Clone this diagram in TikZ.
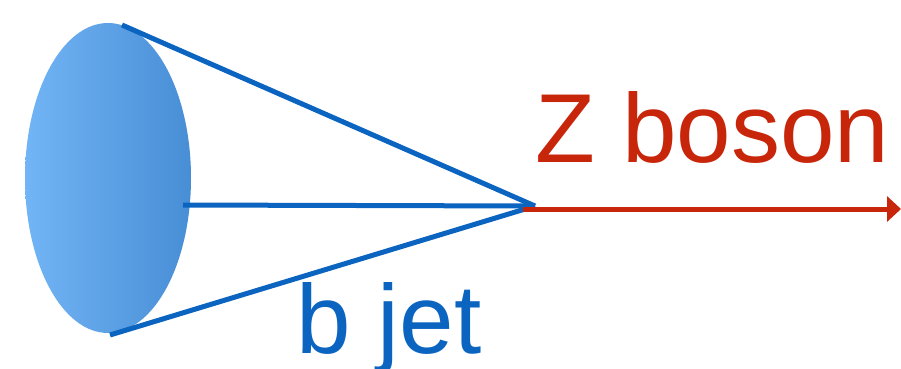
\documentclass[tikz,border=0pt]{standalone}
\usepackage{fontspec}
\setmainfont{Liberation Sans}
\usetikzlibrary{shapes.geometric,arrows.meta}
\definecolor{zred}{RGB}{200,38,10}
\definecolor{jetblue}{RGB}{10,100,192}
\definecolor{elleft}{RGB}{114,181,246}
\definecolor{elright}{RGB}{72,142,213}
\tikzset{
  jetline/.style={draw=jetblue, line width=5pt},
  zline/.style={draw=zred, line width=5pt, -{Triangle[length=14pt,width=25pt]}},
  lbl/.style={anchor=base west, inner sep=0pt, font=\fontsize{98}{112}\selectfont}
}
\begin{document}
\begin{tikzpicture}[x=1pt,y=-1pt]
\useasboundingbox (0,0) rectangle (901,368);
\node[ellipse, minimum width=166pt, minimum height=310pt, inner sep=0pt,
      left color=elleft, right color=elright, draw=none] (disk) at (108,178) {};
\coordinate (top) at (122,25);
\coordinate (bot) at (110,335);
\coordinate (mid) at (183,205);
\coordinate (apex) at (535,206);
\coordinate (zstart) at (523,209);
\coordinate (zend) at (901,209);
\draw[jetline] (top) -- (apex);
\draw[jetline] (bot) -- (apex);
\draw[jetline] (mid) -- (apex);
\draw[zline] (zstart) -- (zend);
\node[lbl, text=zred] (zlabel) at (535,162) {Z boson};
\node[lbl, text=jetblue] (blabel) at (296,353) {b jet};
\end{tikzpicture}
\end{document}
